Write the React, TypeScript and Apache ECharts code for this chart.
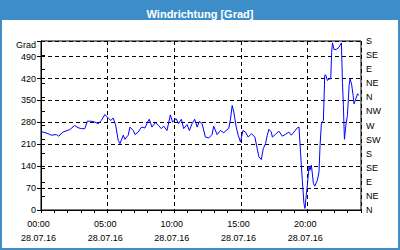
import React, { useEffect, useRef } from "react";
import * as echarts from "echarts";

const TITLE = "Windrichtung [Grad]";
const DATE_LABEL = "28.07.16";
const hours = [
  0.0, 0.53, 0.77, 1.15, 1.33, 1.65, 2.16, 2.53, 2.78, 3.03,
  3.29, 3.48, 3.91, 4.29, 4.53, 4.79, 5.04, 5.24, 5.41, 5.59,
  5.79, 5.92, 6.17, 6.29, 6.54, 6.67, 6.92, 7.05, 7.29, 7.54,
  7.8, 7.99, 8.12, 8.32, 8.57, 8.82, 9.02, 9.2, 9.45, 9.7,
  9.87, 10.13, 10.32, 10.53, 10.7, 10.95, 11.13, 11.33, 11.53, 11.71,
  11.88, 12.08, 12.33, 12.58, 12.83, 12.95, 13.21, 13.46, 13.71, 13.96,
  14.08, 14.21, 14.34, 14.46, 14.64, 14.79, 14.96, 15.14, 15.34, 15.54,
  15.79, 16.04,
  16.34, 16.52, 16.67, 16.84, 16.97, 17.09, 17.27, 17.35, 17.59, 17.84,
  18.1, 18.35, 18.59, 18.77, 18.97, 19.23, 19.35, 19.47, 19.6, 19.72,
  19.8, 19.87, 19.98, 20.1, 20.17, 20.28, 20.43, 20.53, 20.73, 20.85,
  20.93, 21.03, 21.18, 21.28, 21.35, 21.48, 21.6, 21.73, 21.8, 21.86,
  21.98, 22.18, 22.35, 22.53, 22.61, 22.68, 22.73, 22.76, 22.86, 22.98,
  23.11, 23.18, 23.29, 23.41, 23.48, 23.61, 23.74, 23.86,
];
const degrees = [
  251, 244, 239, 241, 236, 249, 257, 270, 263, 260,
  260, 284, 283, 276, 286, 305, 294, 286, 294, 273,
  223, 212, 239, 226, 239, 265, 254, 241, 249, 265,
  262, 281, 290, 265, 279, 270, 260, 268, 254, 304,
  281, 292, 276, 290, 260, 273, 254, 276, 290, 265,
  283, 276, 233, 230, 241, 268, 241, 254, 247, 257,
  260, 290, 334, 313, 265, 239, 217, 254, 249, 233,
  244, 233,
  170, 161, 196, 212, 239, 258, 249, 233, 242, 252,
  236, 242, 249, 239, 249, 263, 265, 180, 95, 21,
  5, 37, 80, 138, 127, 143, 85, 76, 95, 122,
  207, 276, 286, 430, 432, 414, 419, 419, 504, 534,
  512, 514, 520, 534, 408, 334, 260, 226, 270, 302,
  398, 419, 403, 366, 339, 355, 371, 366,
];
const dirLabels = ["N", "NE", "E", "SE", "S", "SW", "W", "NW", "N", "NE", "E", "SE", "S"];

const FONT = "'Liberation Sans', Arial, sans-serif";
const FRAME = "#3d8ec8";

export default function App() {
  const ref = useRef<HTMLDivElement>(null);
  useEffect(() => {
    if (!ref.current) return;
    const chart = echarts.init(ref.current, undefined, { renderer: "svg" });
    const data = hours.map((h, i) => [h, degrees[i]]);
    const pad = (n: number) => (n < 10 ? "0" + n : String(n));
    chart.setOption({
      animation: false,
      backgroundColor: "#ffffff",
      textStyle: { fontFamily: FONT },
      title: {
        text: TITLE,
        left: "center",
        top: 3,
        textStyle: { color: "#ffffff", fontSize: 11, fontWeight: "bold", fontFamily: FONT },
      },
      graphic: [
        { type: "rect", z: 0, shape: { x: 0, y: 0, width: 400, height: 20 }, style: { fill: FRAME } },
        { type: "rect", z: 0, shape: { x: 1, y: 1, width: 398, height: 248 }, style: { fill: "none", stroke: FRAME, lineWidth: 2 } },
        { type: "text", z: 10, x: 36, y: 45, style: { text: "Grad", align: "right", verticalAlign: "middle", fontSize: 9, fontFamily: FONT, fill: "#000" } },
      ],
      grid: {
        left: 41, right: 39, top: 41, bottom: 40,
        show: true, backgroundColor: "#ffffff", borderColor: "#000", borderWidth: 1,
      },
      xAxis: [
        {
          type: "value", min: 0, max: 24, interval: 1,
          axisLine: { show: true, lineStyle: { color: "#000" } },
          axisTick: { show: true, length: 3, lineStyle: { color: "#000" } },
          splitLine: { show: false },
          axisLabel: {
            color: "#000", fontSize: 9, lineHeight: 14, margin: 7,
            padding: [0, 5, 0, 0],
            formatter: (v: number) => (v % 5 === 0 && v < 24 ? `${pad(v)}:00\n${DATE_LABEL}` : ""),
          },
        },
        {
          type: "value", min: 0, max: 24, interval: 5, position: "bottom",
          axisLine: { show: false }, axisTick: { show: false }, axisLabel: { show: false },
          splitLine: { show: true, lineStyle: { color: "#000", type: [4, 3], width: 1 } },
        },
      ],
      yAxis: [
        {
          type: "value", min: 0, max: 540, interval: 70, position: "left",
          axisLine: { show: true, lineStyle: { color: "#000" } },
          axisTick: { show: true, length: 4, lineStyle: { color: "#000" } },
          splitLine: { show: true, lineStyle: { color: "#000", type: [4, 3], width: 1 } },
          axisLabel: {
            color: "#000", fontSize: 9, margin: 5,
            formatter: (v: number) => (v === 540 ? "" : String(v)),
          },
        },
        {
          type: "value", min: 0, max: 540, interval: 45, position: "right",
          axisLine: { show: true, lineStyle: { color: "#000" } },
          axisTick: { show: true, length: 4, lineStyle: { color: "#000" } },
          splitLine: { show: false },
          axisLabel: {
            color: "#000", fontSize: 9, margin: 5,
            formatter: (v: number) => dirLabels[Math.round(v / 45)] || "",
          },
        },
      ],
      series: [
        {
          type: "line", xAxisIndex: 0, yAxisIndex: 0, data,
          showSymbol: false, symbol: "none",
          lineStyle: { color: "#0000ff", width: 1 },
        },
      ],
    });
    return () => chart.dispose();
  }, []);
  return <div ref={ref} style={{ position: "fixed", left: 0, top: 0, width: 400, height: 250 }} />;
}
